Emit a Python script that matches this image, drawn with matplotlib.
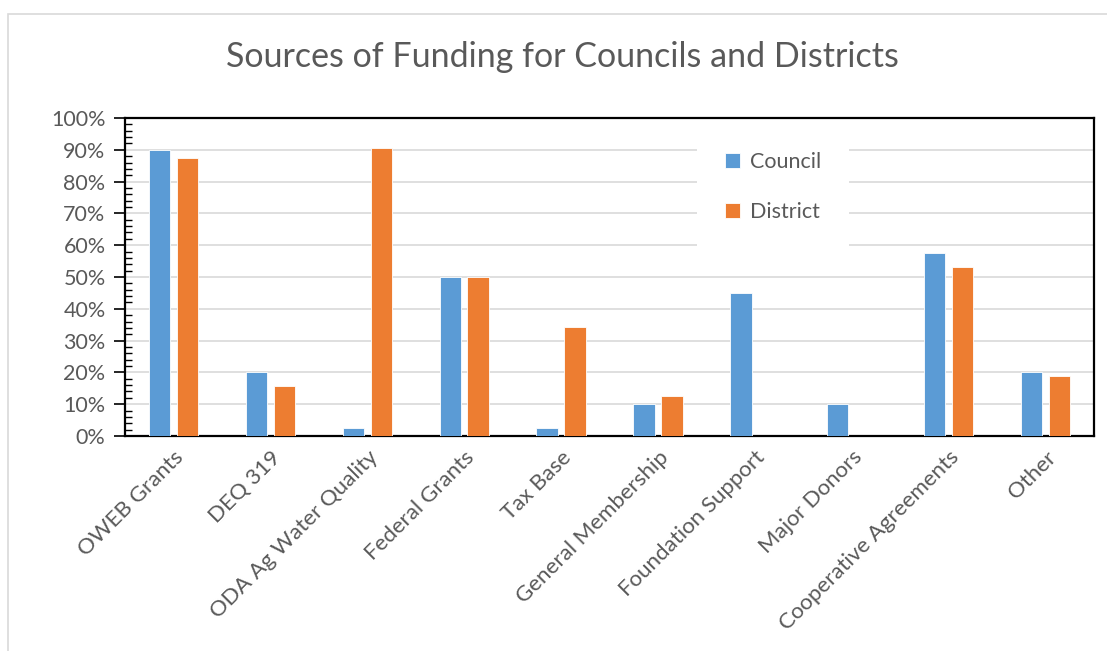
import numpy as np
import matplotlib
matplotlib.use("Agg")
import matplotlib.pyplot as plt
from matplotlib.patches import Rectangle
from matplotlib.ticker import MultipleLocator, PercentFormatter

categories = ["OWEB Grants", "DEQ 319", "ODA Ag Water Quality", "Federal Grants",
              "Tax Base", "General Membership", "Foundation Support", "Major Donors",
              "Cooperative Agreements", "Other"]
council = [90, 20, 2.5, 50, 2.5, 10, 45, 10, 57.5, 20]
district = [87.5, 15.6, 90.6, 50, 34.4, 12.5, 0, 0, 53.1, 18.8]

plt.rcParams['font.family'] = ['Lato', 'DejaVu Sans']
gray = '#595959'

fig = plt.figure(figsize=(11.07, 6.51), dpi=100)
# chart area border
fig.patches.append(Rectangle((8 / 1107, -0.01), 1.1, (651 - 14) / 651 + 0.01,
                             transform=fig.transFigure, fill=False,
                             edgecolor='#d9d9d9', linewidth=1.2))

ax = fig.add_axes([125 / 1107, (651 - 436) / 651, 969 / 1107, 318 / 651])
x = np.arange(len(categories))
w = 0.22
ax.bar(x - 0.144, council, w, color='#5B9BD5', edgecolor='white', linewidth=0.6,
       label='Council', zorder=3)
ax.bar(x + 0.144, district, w, color='#ED7D31', edgecolor='white', linewidth=0.6,
       label='District', zorder=3)

ax.set_xlim(-0.5, len(categories) - 0.5)
ax.set_ylim(0, 100)
ax.yaxis.set_major_locator(MultipleLocator(10))
ax.yaxis.set_minor_locator(MultipleLocator(2))
ax.yaxis.set_major_formatter(PercentFormatter(decimals=0))
ax.grid(axis='y', color='#d9d9d9', linewidth=1.2, zorder=0)
ax.set_axisbelow(True)

for s in ax.spines.values():
    s.set_color('black')
    s.set_linewidth(1.6)

ax.tick_params(axis='y', which='major', direction='out', length=8, width=1.2,
               labelsize=15.5, labelcolor=gray, pad=6)
ax.tick_params(axis='y', which='minor', direction='in', length=5, width=1.0)
ax.tick_params(axis='x', length=0, labelsize=16, labelcolor=gray, pad=8)
ax.set_xticks(x)
ax.set_xticklabels(categories, rotation=45, ha='right', rotation_mode='anchor')

fig.text(0.508, 0.912, "Sources of Funding for Councils and Districts",
         ha='center', va='center', fontsize=24.5, color=gray)

leg = ax.legend(loc='upper left', bbox_to_anchor=(697 / 1107, 1 - 124 / 651),
                bbox_transform=fig.transFigure, frameon=True, fancybox=False,
                edgecolor='none', facecolor='white', framealpha=1,
                fontsize=15.5, handlelength=0.7, handleheight=0.7,
                handletextpad=0.45, labelspacing=1.4, borderpad=1.3,
                borderaxespad=0)
for t in leg.get_texts():
    t.set_color(gray)
leg.set_zorder(5)

fig.savefig("out.png", dpi=100)
